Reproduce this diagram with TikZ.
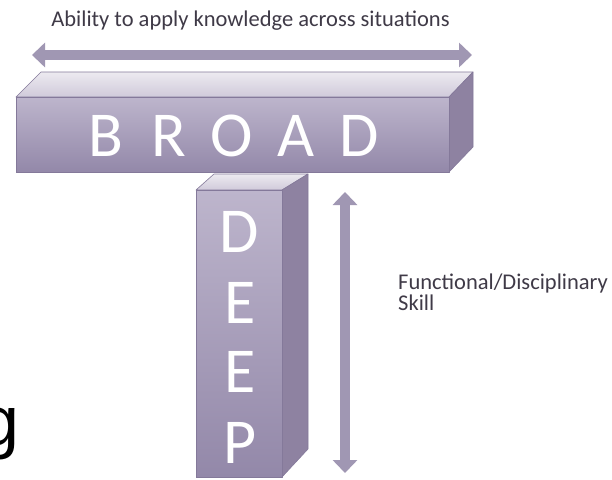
\documentclass[tikz,border=0pt]{standalone}
\usepackage{fontspec}
\setmainfont{Carlito}
\newfontfamily\bigGFont{Liberation Sans}
\usetikzlibrary{arrows.meta,positioning}
\definecolor{barLight}{HTML}{BDB5CC}
\definecolor{barDark}{HTML}{9388A9}
\definecolor{barTop}{HTML}{D0CADA}
\definecolor{barSide}{HTML}{8E82A1}
\definecolor{barEdge}{HTML}{84799A}
\definecolor{arrowFill}{HTML}{A097B3}
\definecolor{labelText}{HTML}{3F3A47}
\newcommand{\letterSize}{\fontsize{64}{64}\selectfont}
\newcommand{\labelSize}{\fontsize{22.5}{21}\selectfont}

\begin{document}
\begin{tikzpicture}[x=1pt, y=-1pt,
	face/.style={draw=barEdge, line width=0.6pt, line join=round},
	frontFace/.style={face, top color=barLight, bottom color=barDark},
	topFace/.style={face, top color=white!60!barTop, bottom color=barTop},
	sideFace/.style={face, fill=barSide},
	letter/.style={text=white, font=\letterSize, inner sep=0pt},
	label/.style={text=labelText, font=\labelSize, inner sep=0pt},
	spanArrow/.style={draw=arrowFill, line width=10pt,
		{Triangle[width=24pt,length=13pt]}-{Triangle[width=24pt,length=13pt]}}]
	\useasboundingbox[fill=white] (0,0) rectangle (612,479);

	% top label and arrow
	\node[label] (ability) at (250.5,21) {Ability to apply knowledge across situations};
	\coordinate (broadL) at (32,55);
	\coordinate (broadR) at (472,55);
	\draw[spanArrow] (broadL) -- (broadR);

	% DEEP column
	\path[topFace] (196,190) -- (214,174) -- (308,174) -- (282,190) -- cycle;
	\path[sideFace] (282,190) -- (308,174) -- (308,449) -- (282,477) -- cycle;
	\path[frontFace] (196,190) rectangle (282,477);

	% BROAD bar
	\path[topFace] (16,97) -- (41,72) -- (473,72) -- (449,97) -- cycle;
	\path[sideFace] (449,97) -- (473,72) -- (473,147) -- (449,172) -- cycle;
	\path[frontFace] (16,97) rectangle (449,172);

	\node[letter] (b) at (106,136) {B};
	\node[letter] (r) at (169,136) {R};
	\node[letter] (o) at (232,136) {O};
	\node[letter] (a) at (296,136) {A};
	\node[letter] (d) at (359,136) {D};

	\node[letter] (deepD) at (239,232) {D};
	\node[letter] (deepE) at (240,303) {E};
	\node[letter] (deepEE) at (240,372) {E};
	\node[letter] (deepP) at (240,443) {P};

	% depth arrow and its label
	\coordinate (deepT) at (345,192);
	\coordinate (deepB) at (345,473);
	\draw[spanArrow] (deepT) -- (deepB);
	\coordinate (deepMid) at (345,292);
	\node[label, right=53pt of deepMid, align=left] (skill) {Functional/Disciplinary\\Skill};

	% cut-off word at the left edge
	\begin{scope}
		\clip (0,0) rectangle (612,479);
		\node[inner sep=0pt, anchor=base east, font=\bigGFont\fontsize{70}{70}\selectfont] (cutG) at (19.6,445) {g};
	\end{scope}
\end{tikzpicture}
\end{document}
